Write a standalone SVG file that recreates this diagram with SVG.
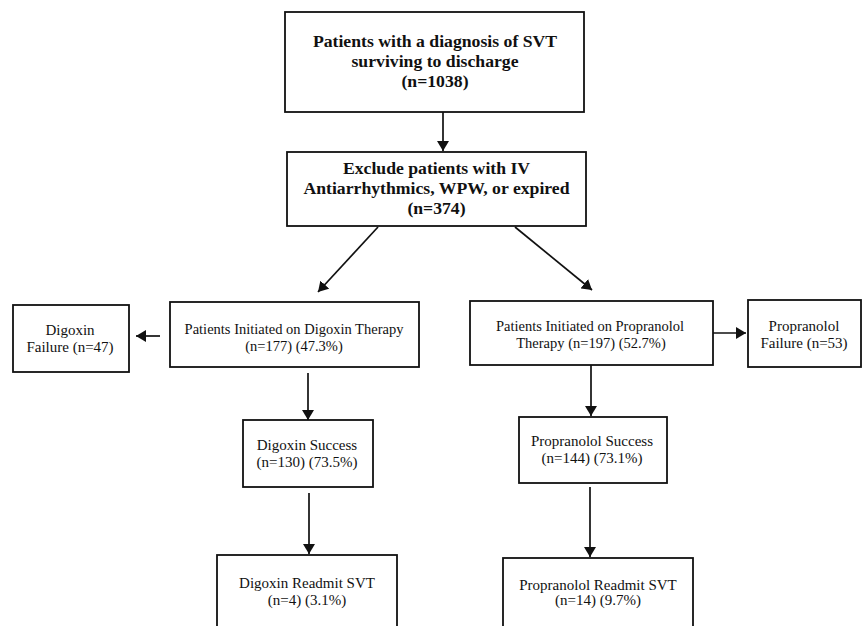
<svg xmlns="http://www.w3.org/2000/svg" width="863" height="626" viewBox="0 0 863 626">
<style>
.box{fill:#fff;stroke:#111;stroke-width:1.8}
.t{font-family:"Liberation Serif","Times New Roman",serif;fill:#111;text-anchor:middle}
.big{font-size:17.7px;font-weight:bold}
.mid{font-size:14.5px}
.sm{font-size:15px}
.c{stroke:#111;stroke-width:1.7;fill:none;marker-end:url(#ah)}
</style>
<defs>
<marker id="ah" viewBox="0 0 10 12" refX="10" refY="6" markerWidth="10" markerHeight="12" orient="auto" markerUnits="userSpaceOnUse">
<path d="M0,0 L10,6 L0,12 Z" fill="#111"/>
</marker>
</defs>
<rect width="863" height="626" fill="#fff"/>
<g id="connectors">
<line class="c" x1="443" y1="112" x2="443" y2="151"/>
<line class="c" x1="378" y1="227" x2="318" y2="292"/>
<line class="c" x1="515" y1="227" x2="592" y2="290"/>
<line class="c" x1="160" y1="336" x2="136" y2="336"/>
<line class="c" x1="713" y1="333" x2="746" y2="333"/>
<line class="c" x1="308" y1="373" x2="308" y2="420"/>
<line class="c" x1="309" y1="493" x2="309" y2="554"/>
<line class="c" x1="591" y1="365" x2="591" y2="416"/>
<line class="c" x1="590" y1="487" x2="590" y2="557"/>
</g>
<g id="n_top">
<rect class="box" x="285" y="12" width="299" height="100"/>
<text class="t big" x="435" y="47">Patients with a diagnosis of SVT</text>
<text class="t big" x="435" y="67">surviving to discharge</text>
<text class="t big" x="435" y="87">(n=1038)</text>
</g>
<g id="n_exclude">
<rect class="box" x="287" y="152" width="299" height="74"/>
<text class="t big" x="436.5" y="174">Exclude patients with IV</text>
<text class="t big" x="436.5" y="194">Antiarrhythmics, WPW, or expired</text>
<text class="t big" x="436.5" y="214">(n=374)</text>
</g>
<g id="n_dig_therapy">
<rect class="box" x="170" y="302" width="249" height="65"/>
<text class="t mid" x="294" y="334">Patients Initiated  on Digoxin Therapy</text>
<text class="t mid" x="294" y="351">(n=177) (47.3%)</text>
</g>
<g id="n_dig_failure">
<rect class="box" x="13" y="305" width="116" height="67"/>
<text class="t sm" x="70" y="335">Digoxin</text>
<text class="t sm" x="70" y="352">Failure (n=47)</text>
</g>
<g id="n_prop_therapy">
<rect class="box" x="470" y="301" width="243" height="64"/>
<text class="t mid" x="590" y="331">Patients Initiated  on Propranolol</text>
<text class="t mid" x="591" y="348">Therapy (n=197) (52.7%)</text>
</g>
<g id="n_prop_failure">
<rect class="box" x="748" y="300" width="113" height="67"/>
<text class="t sm" x="804" y="331">Propranolol</text>
<text class="t sm" x="804" y="348">Failure (n=53)</text>
</g>
<g id="n_dig_success">
<rect class="box" x="243" y="420" width="130" height="67"/>
<text class="t sm" x="307" y="450">Digoxin Success</text>
<text class="t sm" x="307" y="467">(n=130) (73.5%)</text>
</g>
<g id="n_prop_success">
<rect class="box" x="519" y="417" width="148" height="66"/>
<text class="t sm" x="592" y="446">Propranolol Success</text>
<text class="t sm" x="592" y="463">(n=144) (73.1%)</text>
</g>
<g id="n_dig_readmit">
<rect class="box" x="217" y="555" width="180" height="90"/>
<text class="t sm" x="307" y="588">Digoxin Readmit  SVT</text>
<text class="t sm" x="307" y="605">(n=4) (3.1%)</text>
</g>
<g id="n_prop_readmit">
<rect class="box" x="503" y="558" width="190" height="90"/>
<text class="t sm" x="598" y="590">Propranolol Readmit SVT</text>
<text class="t sm" x="598" y="605">(n=14) (9.7%)</text>
</g>
</svg>
